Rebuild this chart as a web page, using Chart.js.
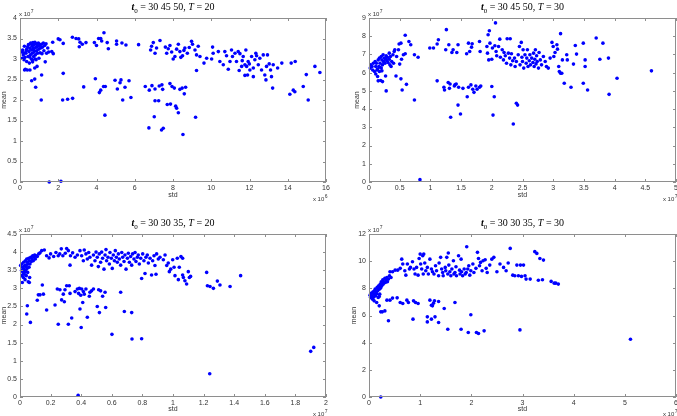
<!DOCTYPE html>
<html lang="en">
<head>
<meta charset="UTF-8">
<title>std vs mean</title>
<script src="https://cdn.jsdelivr.net/npm/chart.js"></script>
<style>
  body { margin: 0; background: #fff; width: 677px; height: 416px; position: relative; overflow: hidden; }
  canvas { position: absolute; }
</style>
</head>
<body>
<canvas id="c1" width="338" height="208" style="left:0;top:0"></canvas>
<canvas id="c2" width="339" height="208" style="left:338px;top:0"></canvas>
<canvas id="c3" width="338" height="208" style="left:0;top:208px"></canvas>
<canvas id="c4" width="339" height="208" style="left:338px;top:208px"></canvas>
<script>
// panel titles and axis exponents
const t0Labels = ['30 45 50', '30 45 50', '30 30 35', '30 30 35'];
const Tvals = [20, 30, 20, 30];
const xExp = [6, 7, 7, 7];
const yExp = [7, 7, 7, 7];
const xMax = [16, 5, 2, 6], xStep = [2, 0.5, 0.2, 1];
const yMax = [4, 9, 4.5, 12], yStep = [0.5, 1, 0.5, 2];

// [std, mean] pairs, scaled by the exponents above
const pts_45_T20 = [
  [0.09,3.17],[0.14,3.22],[0.17,3.1],[0.21,2.98],[0.23,3.31],[0.26,3.04],[0.28,2.75],[0.31,3.14],[0.35,2.94],[0.35,3.24],
  [0.38,2.73],[0.42,3.06],[0.44,3.35],[0.47,3.18],[0.49,2.9],[0.52,3.26],[0.54,3.1],[0.56,3.39],[0.59,3.0],[0.61,3.22],
  [0.63,3.31],[0.64,3.14],[0.66,2.93],[0.68,3.4],[0.7,3.27],[0.71,3.06],[0.73,3.35],[0.75,3.18],[0.77,2.78],[0.78,3.41],
  [0.8,3.1],[0.82,3.28],[0.84,2.98],[0.85,3.37],[0.87,3.2],[0.89,2.82],[0.91,3.33],[0.92,3.14],[0.96,3.39],[0.98,3.24],
  [0.99,3.02],[1.03,3.33],[1.05,3.15],[1.08,3.27],[1.11,3.36],[1.15,3.13],[1.18,3.29],[1.22,3.39],[1.25,3.2],[1.29,3.33],
  [1.32,2.93],[1.36,3.37],[1.39,3.14],[1.45,3.27],[1.5,3.17],[1.66,3.18],[1.71,3.41],[1.74,3.13],[0.24,2.73],[0.52,2.73],
  [0.12,3.02],[0.4,3.3],[0.6,3.36],[0.9,3.3],[0.72,3.22],[0.5,3.05],[0.33,3.2],[1.0,3.35],[0.8,3.0],[0.65,2.98],[0.2,3.15],
  [2.0,3.49],[2.09,3.47],[2.26,3.38],[2.74,3.53],[2.93,3.5],[3.07,3.49],[3.1,3.3],[3.14,3.41],[3.26,3.36],[3.45,3.4],
  [3.89,3.4],[4.0,3.33],[4.11,3.5],[4.22,3.5],[4.27,3.44],[4.39,3.64],[4.56,3.4],[4.62,3.25],[5.05,3.44],[5.05,3.36],
  [5.33,3.39],[5.54,3.34],[6.2,3.35],
  [6.88,3.31],[6.97,3.4],[6.83,3.22],[7.06,3.14],[7.32,3.45],[7.14,3.27],[7.6,3.29],[7.67,3.14],[7.75,3.25],[7.84,3.33],
  [7.93,3.17],[8.01,3.0],[8.1,3.06],[8.19,3.24],[8.28,3.36],[8.36,3.18],[8.41,3.04],[8.5,3.08],[8.57,3.21],[8.62,3.27],
  [8.75,3.14],[8.85,3.28],[8.97,3.43],[9.02,3.36],[9.15,3.22],[9.23,3.1],[9.32,3.31],[9.41,3.06],[9.62,2.9],[9.76,3.02],
  [10.02,3.0],[10.07,3.29],[10.1,3.14],[10.37,3.18],[10.45,2.94],[10.63,2.86],[10.71,3.18],[10.8,3.08],[10.89,2.75],[10.98,2.94],
  [11.06,3.22],[11.11,3.06],[11.24,3.14],[11.32,2.94],[11.41,3.18],[11.46,2.72],[11.59,2.82],[11.67,3.06],[11.76,2.6],[11.81,3.22],
  [11.85,2.82],[11.93,2.94],[12.02,2.73],[12.11,3.06],[12.2,2.57],[12.28,2.98],[12.33,3.14],[12.46,2.86],[12.54,3.02],[12.63,2.73],
  [12.72,3.1],[12.8,2.61],[12.86,2.49],[12.89,2.82],[12.94,3.1],[13.03,2.88],[13.1,2.73],[13.15,2.57],[13.21,2.29],[13.24,2.86],
  [13.47,2.78],[13.69,2.9],[14.18,2.9],[14.39,2.94],[14.29,2.24],[14.37,2.2],[14.11,2.14],[14.81,2.33],[14.97,2.62],[15.07,2.0],
  [15.42,2.82],[15.68,2.67],[11.5,3.13],[11.99,2.88],[11.76,2.86],[12.2,2.78],[11.9,2.61],[12.37,3.08],[11.62,2.96],
  [0.77,2.51],[0.61,2.47],[0.82,2.31],[1.11,2.0],[1.13,2.61],[2.26,2.65],[2.23,2.0],[2.49,2.02],[2.75,2.04],[3.33,2.32],
  [3.94,2.52],[4.15,2.18],[4.22,2.24],[4.37,2.33],[4.46,2.33],[4.44,1.63],[4.97,2.48],[5.09,2.27],[5.23,2.42],[5.28,2.49],
  [5.37,2.0],[5.49,2.31],[5.7,2.47],[5.8,2.06],[6.55,2.33],[6.76,2.24],[6.9,2.35],[6.74,1.32],[7.02,1.59],[7.06,2.27],
  [7.06,1.98],[7.25,1.98],[7.28,2.34],[7.42,2.37],[7.46,2.26],[7.4,1.27],[7.49,1.31],[7.7,1.89],[7.84,2.4],[7.87,1.9],
  [7.95,2.33],[8.07,2.29],[8.14,1.85],[8.19,1.8],[8.28,1.69],[8.36,2.26],[8.48,2.29],[8.59,2.15],[8.66,2.31],[8.52,1.16],
  [9.18,1.58],[9.23,2.72],[1.53,0.0],[2.14,0.02]
];

const pts_45_T30 = [
  [0.02,6.25],[0.03,6.43],[0.05,6.34],[0.07,6.52],[0.06,6.15],[0.09,6.06],[0.1,6.61],[0.11,6.34],[0.11,5.93],[0.12,6.52],
  [0.13,6.15],[0.14,5.79],[0.15,6.7],[0.15,5.55],[0.16,6.34],[0.17,6.8],[0.17,6.06],[0.18,6.52],[0.19,5.57],[0.2,6.89],
  [0.2,6.25],[0.21,6.7],[0.22,6.43],[0.22,5.51],[0.23,6.98],[0.24,6.61],[0.25,6.8],[0.26,6.52],[0.27,5.82],[0.28,6.93],
  [0.29,6.67],[0.28,5.0],[0.3,6.85],[0.31,6.56],[0.33,7.07],[0.33,6.74],[0.34,6.43],[0.35,6.89],[0.37,6.61],[0.39,6.98],
  [0.4,6.52],[0.41,7.16],[0.42,7.26],[0.44,5.82],[0.48,7.26],[0.49,7.57],[0.5,6.47],[0.52,7.62],[0.53,6.74],[0.52,5.66],
  [0.54,5.05],[0.56,6.98],[0.59,8.05],[0.59,7.04],[0.61,5.36],[0.65,7.71],[0.68,7.53],[0.74,4.5],[0.74,6.98],[0.8,6.85],
  [0.83,0.13],[0.45,6.89],[0.36,6.34],[0.18,6.3],[0.24,6.6],[0.14,6.2],[0.27,6.75],[0.21,6.1],
  [0.99,7.35],[1.05,7.35],[1.11,7.57],[1.13,7.81],[1.11,5.55],[1.22,5.2],[1.23,5.05],[1.26,8.36],[1.25,7.26],[1.29,5.46],
  [1.3,7.53],[1.31,5.14],[1.32,5.38],[1.33,3.55],[1.35,7.11],[1.37,7.26],[1.39,5.27],[1.4,5.33],[1.42,5.38],[1.43,7.11],
  [1.45,4.22],[1.46,5.2],[1.45,7.53],[1.49,3.73],[1.53,5.14],[1.59,7.04],[1.6,4.68],[1.62,7.62],[1.62,5.2],[1.64,7.16],
  [1.66,5.33],[1.67,7.4],[1.68,7.59],[1.69,5.09],[1.71,4.92],[1.74,5.27],[1.76,5.09],[1.8,7.71],[1.8,5.2],[1.81,7.16],[1.82,5.27],
  [1.92,7.44],[1.94,8.08],[1.96,8.3],[1.93,7.07],[1.97,7.62],[1.95,6.7],[2.0,5.24],[2.0,6.74],[2.01,7.35],[2.02,3.67],
  [2.05,7.48],[2.06,8.73],[2.04,4.68],[2.07,7.16],[2.08,6.93],[2.11,7.44],[2.13,7.84],[2.14,6.85],[2.17,7.26],[2.19,6.7],
  [2.2,7.11],[2.22,6.93],[2.24,6.52],[2.25,7.86],[2.27,7.07],[2.29,6.8],[2.3,7.86],[2.31,6.43],[2.32,7.04],[2.34,6.65],
  [2.35,3.18],[2.37,6.8],[2.38,6.34],[2.4,4.32],[2.42,4.22],[2.4,6.61],[2.43,6.98],[2.45,7.44],[2.46,6.43],[2.48,7.66],
  [2.49,6.85],[2.5,6.61],[2.51,7.26],[2.52,6.25],[2.54,6.98],[2.56,6.52],[2.57,6.8],[2.58,7.26],[2.59,6.34],[2.61,6.65],
  [2.62,6.98],[2.63,6.43],[2.65,6.8],[2.67,6.56],[2.68,7.07],[2.69,6.34],[2.7,6.74],[2.71,7.26],[2.72,6.48],[2.73,6.93],
  [2.74,6.61],[2.76,6.25],[2.77,7.11],[2.79,6.7],[2.81,6.43],[2.84,6.89],[2.87,6.61],[2.89,6.34],[2.92,6.25],[2.95,6.8],
  [2.98,7.66],[3.0,7.44],[3.01,6.89],[3.03,7.11],[3.06,7.53],[3.07,7.29],[3.09,6.34],[3.1,6.06],[3.12,8.14],[3.12,5.97],
  [3.14,5.97],[3.15,6.7],[3.18,5.42],[3.22,6.98],[3.23,6.7],[3.29,5.2],[3.33,6.47],[3.36,7.49],[3.38,7.02],[3.49,7.62],
  [3.49,5.42],[3.52,6.7],[3.52,6.34],[3.56,5.05],[3.7,7.9],[3.76,6.74],[3.81,7.62],[3.9,6.8],[3.91,4.81],[4.04,5.69],[4.6,6.1]
];

const pts_35_T20 = [
  [0.004,3.63],[0.01,3.49],[0.01,3.67],[0.013,3.35],[0.015,3.16],[0.017,3.58],[0.02,3.44],[0.022,3.3],[0.024,3.72],[0.026,3.53],
  [0.028,3.39],[0.03,3.63],[0.033,3.24],[0.035,3.76],[0.037,3.49],[0.039,3.64],[0.041,3.35],[0.044,3.81],[0.046,3.55],[0.048,3.72],
  [0.05,3.44],[0.052,3.67],[0.054,3.18],[0.057,3.83],[0.059,3.58],[0.061,3.76],[0.063,3.3],[0.065,3.67],[0.07,3.86],[0.074,3.74],
  [0.078,3.81],[0.083,3.9],[0.087,3.76],[0.092,3.86],[0.096,3.92],[0.1,3.81],[0.105,3.9],[0.113,3.88],[0.122,3.95],[0.131,3.98],
  [0.142,4.04],[0.159,4.06],[0.061,3.16],[0.02,3.56],[0.04,3.6],[0.03,3.45],
  [0.174,3.9],[0.19,3.84],[0.2,3.95],[0.22,3.88],[0.235,3.99],[0.25,3.9],[0.26,3.95],[0.27,4.09],[0.28,3.9],[0.296,3.97],
  [0.305,4.1],[0.316,4.04],[0.327,3.64],[0.33,3.9],[0.344,3.98],[0.36,3.86],[0.375,3.92],[0.392,4.04],[0.403,3.9],[0.414,3.76],
  [0.42,4.06],[0.431,3.95],[0.44,3.81],[0.449,3.99],[0.457,3.86],[0.468,3.64],[0.48,3.92],[0.49,3.76],[0.497,4.0],[0.505,3.86],
  [0.512,3.6],[0.518,3.95],[0.527,3.72],[0.534,4.0],[0.54,3.83],[0.549,3.53],[0.556,3.92],[0.562,4.07],[0.566,3.76],[0.575,3.86],
  [0.584,3.67],[0.588,3.99],[0.597,3.83],[0.603,3.55],[0.61,3.92],[0.617,3.76],[0.623,4.04],[0.63,3.86],[0.636,3.72],[0.643,3.95],
  [0.649,3.81],[0.658,3.64],[0.665,3.99],[0.671,3.86],[0.68,3.74],[0.686,3.92],[0.693,3.53],[0.702,3.83],[0.708,3.97],[0.715,3.72],
  [0.723,3.88],[0.73,3.64],[0.736,3.95],[0.745,3.81],[0.752,3.99],[0.758,3.74],[0.767,3.86],[0.773,3.92],[0.78,3.67],[0.789,3.83],
  [0.795,3.27],[0.802,3.95],[0.81,3.76],[0.817,3.41],[0.823,3.86],[0.832,3.92],[0.839,3.7],[0.85,3.83],[0.86,3.37],[0.867,3.76],
  [0.876,3.9],[0.882,3.63],[0.889,3.39],[0.893,3.95],[0.904,3.81],[0.915,3.86],[0.937,3.79],[0.948,3.92],[0.959,3.63],[0.969,3.7],
  [0.976,3.46],[0.985,3.53],[0.998,3.79],[1.007,3.58],[1.013,3.35],[1.028,3.83],[1.035,3.24],[1.041,3.58],[1.052,3.88],[1.063,3.83],
  [1.063,3.37],[1.068,3.3],[1.078,3.21],[1.089,3.12],[1.1,3.46],[1.107,3.3],[1.115,3.33],
  [1.22,3.44],[1.225,3.07],[1.242,3.05],[1.264,3.0],[1.29,3.2],[1.307,3.09],[1.373,3.05],[1.442,3.35],
  [1.24,0.64],[1.9,1.26],[1.92,1.37],
  [0.048,2.52],[0.044,2.29],[0.068,2.06],[0.113,2.67],[0.12,2.82],[0.131,2.82],[0.146,3.09],[0.153,2.84],[0.174,2.4],[0.229,2.54],
  [0.244,2.98],[0.25,2.01],[0.261,2.96],[0.272,2.68],[0.283,2.84],[0.29,2.63],[0.294,2.96],[0.305,3.07],[0.316,2.01],[0.322,3.07],
  [0.327,2.86],[0.338,2.18],[0.36,2.91],[0.375,2.98],[0.383,2.86],[0.388,3.0],[0.392,2.43],[0.397,2.81],[0.4,1.92],[0.403,2.98],
  [0.41,2.61],[0.414,2.91],[0.42,2.84],[0.431,2.98],[0.44,2.2],[0.453,2.78],[0.457,2.89],[0.468,2.93],[0.48,2.98],[0.505,2.5],
  [0.514,2.96],[0.519,2.33],[0.527,2.93],[0.54,2.78],[0.556,2.89],[0.56,2.47],[0.601,1.73],[0.658,2.89],[0.682,2.36],[0.73,2.33],
  [0.732,1.6],[0.795,1.61],[0.38,0.05]
];

const pts_35_T30 = [
  [0.02,7.5],[0.03,7.33],[0.05,7.65],[0.06,7.45],[0.07,7.2],[0.08,7.75],[0.1,7.57],[0.1,7.08],[0.12,7.94],[0.13,7.45],
  [0.14,7.7],[0.15,6.96],[0.16,8.07],[0.17,7.82],[0.18,7.33],[0.19,8.19],[0.2,7.94],[0.21,7.57],[0.22,8.31],[0.23,8.07],
  [0.24,8.48],[0.25,8.19],[0.27,8.63],[0.28,8.31],[0.29,8.48],[0.31,8.73],[0.32,8.43],[0.33,8.63],[0.35,8.8],[0.36,8.48],
  [0.38,8.68],[0.4,8.93],[0.43,8.8],[0.2,6.71],[0.23,6.27],[0.26,6.27],[0.31,6.34],[0.2,7.4],[0.23,0.0],[0.38,5.61],[0.35,7.13],
  [0.04,7.4],[0.09,7.35],[0.11,7.8],[0.15,7.6],[0.18,8.0],[0.26,8.4],[0.22,8.0],
  [0.41,9.22],[0.46,9.22],[0.51,9.34],[0.56,9.34],[0.61,9.47],[0.64,10.15],[0.66,9.79],[0.7,9.29],[0.72,8.97],[0.75,9.79],
  [0.79,9.42],[0.81,9.54],[0.85,9.96],[0.88,9.42],[0.9,9.05],[0.93,9.54],[0.96,8.97],[0.98,10.2],[1.0,10.52],[1.01,9.79],
  [1.03,9.42],[1.05,10.4],[1.06,9.05],[1.07,10.52],[1.09,9.86],[1.11,9.29],[1.14,9.54],[1.16,9.05],[1.19,10.15],[1.22,9.42],
  [1.24,9.22],[1.27,9.05],[1.3,9.66],[1.32,9.29],[1.36,8.93],[1.37,9.86],[1.4,10.28],[1.42,9.42],[1.44,9.17],[1.45,8.93],
  [1.49,9.54],[1.5,9.29],[1.52,10.28],[1.54,9.05],[1.55,10.6],[1.56,9.71],[1.58,9.22],[1.6,8.93],[1.62,9.42],[1.65,10.03],
  [1.66,9.05],[1.68,9.17],[1.7,9.59],[1.71,8.93],[1.75,10.4],[1.77,9.34],[1.78,9.05],[1.8,10.15],[1.81,9.22],[1.83,8.93],
  [1.86,9.42],[1.88,9.05],[1.9,9.17],[1.91,11.06],[1.93,9.42],[1.95,9.66],[1.97,8.97],[1.99,9.29],[2.03,9.79],[2.05,9.17],
  [2.09,9.47],[2.12,10.65],[2.14,10.2],[2.16,9.66],[2.18,9.91],[2.21,9.29],[2.23,10.03],[2.27,10.1],[2.29,9.47],[2.31,9.17],
  [2.36,9.71],[2.4,10.15],[2.44,10.28],[2.5,9.22],[2.56,9.79],[2.63,9.54],[2.68,9.29],[2.72,9.86],[2.76,10.94],[2.81,8.97],
  [2.85,8.93],[2.89,9.71],[2.92,8.93],[2.96,9.71],[2.98,8.88],[3.02,9.71],[3.05,8.93],[3.07,8.68],[3.15,8.68],[3.24,10.7],
  [3.28,10.57],[3.31,8.6],[3.34,10.2],[3.39,8.63],[3.41,10.08],[3.56,8.51],[3.62,8.38],[3.65,8.38],[3.7,8.31],
  [0.41,7.13],[0.46,7.28],[0.55,7.3],[0.61,6.96],[0.66,6.88],[0.74,7.13],[0.77,6.96],[0.87,7.08],[0.91,6.96],[0.96,6.88],
  [0.86,5.73],[1.14,5.9],[1.14,5.53],[1.19,7.13],[1.22,5.73],[1.22,6.76],[1.26,6.91],[1.28,7.08],[1.24,6.71],[1.29,5.9],
  [1.36,5.48],[1.36,7.03],[1.47,6.52],[1.68,6.96],[1.54,4.99],[1.8,4.99],[1.99,6.05],[1.94,4.75],[2.1,4.75],[2.14,4.67],
  [2.25,4.87],[2.95,4.94],[5.11,4.25]
];

const panelData = [pts_45_T20, pts_45_T30, pts_35_T20, pts_35_T30];

// canvas layout so the plot boxes land where the reference has them
const geo = [
  { pad: { left: 0, top: 18, right: 12, bottom: 9 }, yw: 20, xh: 17, titleY: 10 },
  { pad: { left: 15, top: 18, right: 1, bottom: 9 }, yw: 16, xh: 17, titleY: 10 },
  { pad: { left: 0, top: 26, right: 12, bottom: 3 }, yw: 20, xh: 16, titleY: 18 },
  { pad: { left: 12, top: 26, right: 1, bottom: 3 }, yw: 19, xh: 16, titleY: 18 }
];

const SANS = '"Liberation Sans", Arial, sans-serif';
const SERIF = '"Liberation Serif", "Times New Roman", serif';

// MATLAB look: full box, inward ticks, sub-scripted title, "x 10^n" labels
const matlabAxes = {
  id: 'matlabAxes',
  afterDraw(chart, args, o) {
    const { ctx, chartArea: a, scales: { x, y } } = chart;
    ctx.save();
    ctx.strokeStyle = '#8e8e8e';
    ctx.lineWidth = 1;
    ctx.strokeRect(a.left + 0.5, a.top + 0.5, a.right - a.left - 1, a.bottom - a.top - 1);
    ctx.beginPath();
    x.ticks.forEach(t => {
      const px = Math.round(x.getPixelForValue(t.value)) + 0.5;
      ctx.moveTo(px, a.bottom); ctx.lineTo(px, a.bottom - 3);
      ctx.moveTo(px, a.top); ctx.lineTo(px, a.top + 3);
    });
    y.ticks.forEach(t => {
      const py = Math.round(y.getPixelForValue(t.value)) + 0.5;
      ctx.moveTo(a.left, py); ctx.lineTo(a.left + 3, py);
      ctx.moveTo(a.right, py); ctx.lineTo(a.right - 3, py);
    });
    ctx.stroke();

    // title
    ctx.fillStyle = '#000';
    ctx.textBaseline = 'alphabetic';
    const parts = [
      { s: 't', f: 'italic bold 10px ' + SERIF, dy: 0 },
      { s: '0', f: '7px ' + SERIF, dy: 3 },
      { s: ' = ' + o.t0 + ', ', f: '10px ' + SERIF, dy: 0 },
      { s: 'T', f: 'italic 10px ' + SERIF, dy: 0 },
      { s: ' = ' + o.T, f: '10px ' + SERIF, dy: 0 }
    ];
    let w = 0;
    parts.forEach(p => { ctx.font = p.f; p.w = ctx.measureText(p.s).width; w += p.w; });
    let cx = (a.left + a.right) / 2 - w / 2;
    parts.forEach(p => { ctx.font = p.f; ctx.fillText(p.s, cx, o.titleY + p.dy); cx += p.w; });

    // exponent labels
    ctx.fillStyle = '#333';
    const expo = (n, x0, base, alignRight) => {
      ctx.font = '6px ' + SANS;
      const w1 = ctx.measureText('x 10').width;
      ctx.font = '5px ' + SANS;
      const w2 = ctx.measureText(String(n)).width;
      const start = alignRight ? x0 - w1 - w2 : x0;
      ctx.font = '6px ' + SANS;
      ctx.fillText('x 10', start, base);
      ctx.font = '5px ' + SANS;
      ctx.fillText(String(n), start + w1 + 0.5, base - 3);
    };
    expo(o.yExp, a.left - 1, a.top - 2, false);
    expo(o.xExp, a.right + 1, a.bottom + 19, true);
    ctx.restore();
  }
};

const fmt = v => String(+v.toFixed(2));

panelData.forEach((pts, i) => {
  const g = geo[i];
  new Chart(document.getElementById('c' + (i + 1)), {
    type: 'scatter',
    data: {
      datasets: [{
        data: pts.map(p => ({ x: p[0], y: p[1] })),
        backgroundColor: '#0000ff',
        borderWidth: 0,
        pointRadius: 1.8,
        pointHoverRadius: 1.8,
        clip: false
      }]
    },
    options: {
      responsive: false,
      animation: false,
      events: [],
      layout: { padding: g.pad, autoPadding: false },
      plugins: {
        legend: { display: false },
        tooltip: { enabled: false },
        matlabAxes: { t0: t0Labels[i], T: Tvals[i], xExp: xExp[i], yExp: yExp[i], titleY: g.titleY }
      },
      scales: {
        x: {
          type: 'linear', min: 0, max: xMax[i],
          grid: { display: false, drawTicks: false },
          border: { display: false },
          ticks: { stepSize: xStep[i], autoSkip: false, maxRotation: 0, padding: 2, color: '#333',
                   font: { family: SANS, size: 7 }, callback: fmt },
          title: { display: true, text: 'std', color: '#333', font: { family: SANS, size: 7 }, padding: 0 },
          afterFit: s => { s.height = g.xh; s.paddingLeft = 0; s.paddingRight = 0; }
        },
        y: {
          type: 'linear', min: 0, max: yMax[i],
          grid: { display: false, drawTicks: false },
          border: { display: false },
          ticks: { stepSize: yStep[i], autoSkip: false, padding: 3, color: '#333',
                   font: { family: SANS, size: 7 }, callback: fmt },
          title: { display: true, text: 'mean', color: '#333', font: { family: SANS, size: 7 }, padding: 0 },
          afterFit: s => { s.width = g.yw; s.paddingTop = 0; s.paddingBottom = 0; }
        }
      }
    },
    plugins: [matlabAxes]
  });
});
</script>
</body>
</html>
